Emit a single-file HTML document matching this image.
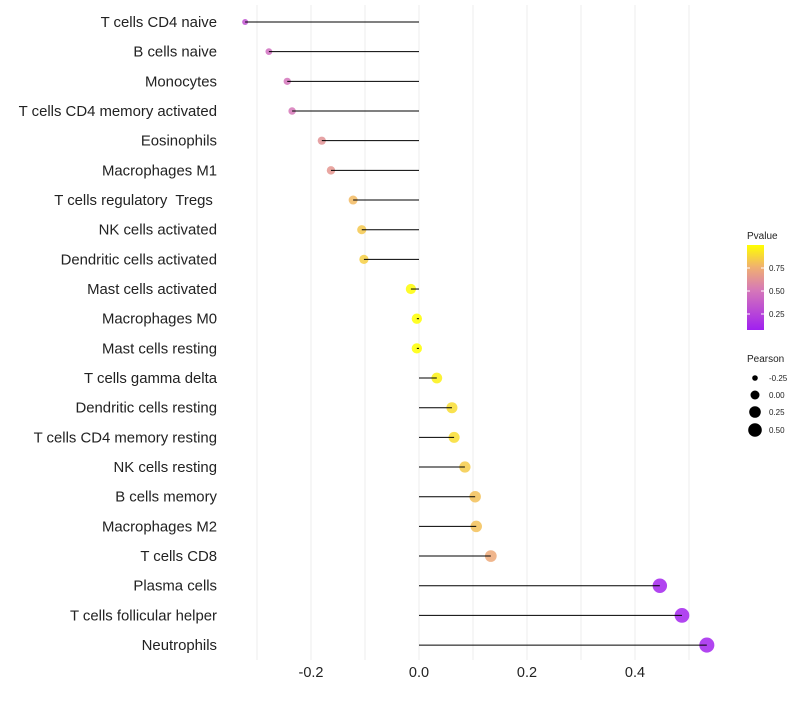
<!DOCTYPE html>
<html><head><meta charset="utf-8"><style>body{margin:0;background:#fff}svg{font-family:"Liberation Sans",sans-serif}text{white-space:pre}</style></head>
<body>
<svg id="c" width="800" height="700"></svg>
<script>
const categories=["T cells CD4 naive","B cells naive","Monocytes","T cells CD4 memory activated","Eosinophils","Macrophages M1","T cells regulatory  Tregs ","NK cells activated","Dendritic cells activated","Mast cells activated","Macrophages M0","Mast cells resting","T cells gamma delta","Dendritic cells resting","T cells CD4 memory resting","NK cells resting","B cells memory","Macrophages M2","T cells CD8","Plasma cells","T cells follicular helper","Neutrophils"];
const pearson=[-0.322,-0.278,-0.244,-0.235,-0.180,-0.163,-0.122,-0.106,-0.102,-0.015,-0.004,-0.004,0.033,0.061,0.065,0.085,0.104,0.106,0.133,0.446,0.487,0.533];
const pvalue=[0.32,0.45,0.48,0.5,0.62,0.64,0.78,0.82,0.84,0.97,0.98,0.98,0.94,0.88,0.88,0.83,0.8,0.8,0.72,0.1,0.1,0.1];
const xTicks=[-0.2,0,0.2,0.4];
const xMinor=[-0.3,-0.1,0.1,0.3,0.5];
const ns="http://www.w3.org/2000/svg",svg=document.getElementById('c');
const X=v=>419+v*540, Y=i=>22+i*29.67;
function col(p){const s=[[0.08,[160,32,240]],[0.5,[214,120,184]],[0.75,[240,176,112]],[0.98,[255,255,0]]];
 p=Math.max(0.08,Math.min(0.98,p));for(let k=0;k<s.length-1;k++){if(p<=s[k+1][0]){const t=(p-s[k][0])/(s[k+1][0]-s[k][0]);return 'rgb('+s[k][1].map((a,j)=>Math.round(a+(s[k+1][1][j]-a)*t)).join(',')+')';}}}
const R=v=>Math.sqrt(Math.max(3,27+56*v));
function el(t,a,txt){const e=document.createElementNS(ns,t);for(const k in a)e.setAttribute(k,a[k]);if(txt!=null)e.textContent=txt;svg.appendChild(e);return e;}
xMinor.concat(xTicks).forEach(v=>{const g=el('line',{x1:X(v),x2:X(v),y1:5,y2:660,stroke:'#ececec','stroke-width':1});

});
xTicks.forEach(v=>{const t=el('text',{x:X(v),y:677,'text-anchor':'middle','font-size':14.5,fill:'#222'},v===0?'0.0':v.toFixed(1));

});
categories.forEach((c,i)=>{
 const t=el('text',{x:217,y:Y(i)+5,'text-anchor':'end','font-size':14.9,fill:'#222'},c);
 
 
 const d=el('circle',{cx:X(pearson[i]),cy:Y(i),r:R(pearson[i]),fill:col(pvalue[i]),'fill-opacity':0.85});
 
 
 const l=el('line',{x1:X(0),x2:X(pearson[i]),y1:Y(i),y2:Y(i),stroke:'#000','stroke-width':1});
 
 
});
const lt=el('text',{x:747,y:239,'font-size':10,fill:'#222'},'Pvalue');


const defs=el('defs',{});const lg=document.createElementNS(ns,'linearGradient');lg.setAttribute('id','g');lg.setAttribute('x1',0);lg.setAttribute('x2',0);lg.setAttribute('y1',1);lg.setAttribute('y2',0);defs.appendChild(lg);
[[0,'#a020f0'],[0.47,'#d678b8'],[0.74,'#f0b070'],[1,'#ffff00']].forEach(s=>{const st=document.createElementNS(ns,'stop');st.setAttribute('offset',s[0]);st.setAttribute('stop-color',s[1]);lg.appendChild(st);});
const cb=el('rect',{x:747,y:245,width:17,height:85,fill:'url(#g)'});


[[0.75,268],[0.5,291],[0.25,314]].forEach(a=>{el('line',{x1:747,x2:750,y1:a[1],y2:a[1],stroke:'#fff'});el('line',{x1:761,x2:764,y1:a[1],y2:a[1],stroke:'#fff'});
const t=el('text',{x:769,y:a[1]+3,'font-size':8,fill:'#222'},a[0].toFixed(2));

});
const pt=el('text',{x:747,y:362,'font-size':10,fill:'#222'},'Pearson');


[[-0.25,378],[0,395],[0.25,412],[0.5,430]].forEach(a=>{const c=el('circle',{cx:755,cy:a[1],r:[2.8,4.5,5.8,6.8][[-0.25,0,0.25,0.5].indexOf(a[0])],fill:'#000'});


const t=el('text',{x:769,y:a[1]+3,'font-size':8,fill:'#222'},a[0].toFixed(2));

});
</script>
</body></html>
